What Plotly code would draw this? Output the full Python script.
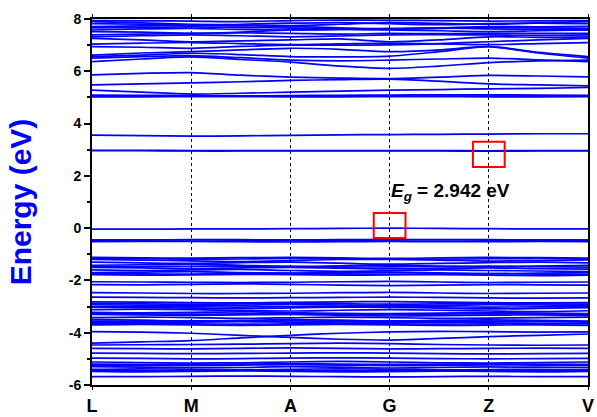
import plotly.graph_objects as go

# k-path: high-symmetry points and midpoints (L, LM, M, MA, A, AG, G, GZ, Z, ZV, V)
k_path = [0, 0.5, 1, 1.5, 2, 2.5, 3, 3.5, 4, 4.5, 5]
k_ticks = [0, 1, 2, 3, 4, 5]
k_labels = ["L", "M", "A", "G", "Z", "V"]
energy_ticks = [-6, -4, -2, 0, 2, 4, 6, 8]

valence_bands = [
    [-0.04, -0.04, -0.03, -0.03, -0.02, -0.01, 0.00, -0.01, -0.02, -0.03, -0.03],
    [-0.45, -0.45, -0.44, -0.44, -0.45, -0.44, -0.43, -0.44, -0.44, -0.45, -0.45],
    [-0.48, -0.49, -0.50, -0.49, -0.48, -0.48, -0.49, -0.50, -0.49, -0.48, -0.48],
    [-0.52, -0.51, -0.51, -0.52, -0.53, -0.52, -0.51, -0.52, -0.52, -0.51, -0.52],
    [-1.12, -1.14, -1.15, -1.13, -1.12, -1.14, -1.16, -1.14, -1.12, -1.13, -1.15],
    [-1.16, -1.17, -1.19, -1.18, -1.16, -1.17, -1.20, -1.19, -1.17, -1.16, -1.18],
    [-1.20, -1.22, -1.25, -1.28, -1.24, -1.20, -1.19, -1.22, -1.26, -1.24, -1.21],
    [-1.30, -1.33, -1.35, -1.32, -1.30, -1.34, -1.38, -1.35, -1.32, -1.30, -1.33],
    [-1.42, -1.40, -1.38, -1.42, -1.46, -1.44, -1.42, -1.45, -1.48, -1.45, -1.42],
    [-1.46, -1.47, -1.46, -1.45, -1.47, -1.49, -1.48, -1.47, -1.45, -1.47, -1.49],
    [-1.50, -1.52, -1.55, -1.52, -1.50, -1.53, -1.56, -1.54, -1.52, -1.55, -1.57],
    [-1.60, -1.62, -1.60, -1.58, -1.62, -1.65, -1.63, -1.60, -1.62, -1.64, -1.66],
    [-1.70, -1.68, -1.66, -1.70, -1.72, -1.70, -1.68, -1.71, -1.74, -1.72, -1.70],
    [-1.74, -1.75, -1.76, -1.74, -1.73, -1.75, -1.76, -1.75, -1.74, -1.76, -1.77],
    [-1.78, -1.80, -1.79, -1.77, -1.78, -1.80, -1.79, -1.78, -1.80, -1.82, -1.80],
    [-2.05, -2.06, -2.07, -2.08, -2.07, -2.05, -2.04, -2.06, -2.08, -2.07, -2.06],
    [-2.16, -2.17, -2.15, -2.13, -2.15, -2.18, -2.20, -2.18, -2.16, -2.17, -2.18],
    [-2.47, -2.48, -2.50, -2.50, -2.49, -2.47, -2.46, -2.48, -2.50, -2.49, -2.48],
    [-2.64, -2.65, -2.66, -2.67, -2.66, -2.65, -2.64, -2.65, -2.67, -2.68, -2.67],
    [-2.82, -2.83, -2.85, -2.86, -2.84, -2.82, -2.81, -2.83, -2.85, -2.86, -2.85],
    [-2.89, -2.90, -2.91, -2.90, -2.88, -2.89, -2.91, -2.90, -2.89, -2.90, -2.91],
    [-2.93, -2.95, -2.97, -2.95, -2.92, -2.94, -2.97, -2.96, -2.93, -2.94, -2.96],
    [-3.00, -3.00, -3.01, -3.02, -3.00, -2.99, -3.00, -3.01, -3.02, -3.01, -3.00],
    [-3.02, -3.04, -3.06, -3.08, -3.05, -3.02, -3.03, -3.06, -3.09, -3.07, -3.04],
    [-3.12, -3.10, -3.12, -3.15, -3.17, -3.14, -3.12, -3.14, -3.17, -3.19, -3.16],
    [-3.22, -3.24, -3.22, -3.20, -3.23, -3.26, -3.27, -3.25, -3.23, -3.25, -3.27],
    [-3.27, -3.28, -3.29, -3.28, -3.27, -3.29, -3.30, -3.29, -3.28, -3.28, -3.29],
    [-3.30, -3.32, -3.34, -3.32, -3.30, -3.33, -3.36, -3.35, -3.33, -3.32, -3.34],
    [-3.42, -3.40, -3.42, -3.45, -3.43, -3.40, -3.42, -3.45, -3.44, -3.42, -3.40],
    [-3.50, -3.52, -3.55, -3.53, -3.50, -3.52, -3.55, -3.53, -3.51, -3.53, -3.56],
    [-3.56, -3.57, -3.57, -3.56, -3.55, -3.57, -3.58, -3.57, -3.56, -3.57, -3.58],
    [-3.60, -3.62, -3.60, -3.58, -3.60, -3.63, -3.62, -3.60, -3.62, -3.64, -3.62],
    [-3.66, -3.65, -3.66, -3.67, -3.66, -3.65, -3.66, -3.67, -3.66, -3.65, -3.66],
    [-3.70, -3.68, -3.70, -3.72, -3.70, -3.68, -3.70, -3.72, -3.71, -3.70, -3.72],
    [-3.96, -3.98, -4.02, -4.10, -4.18, -4.25, -4.28, -4.22, -4.15, -4.10, -4.05],
    [-4.40, -4.35, -4.30, -4.20, -4.10, -4.02, -3.97, -3.95, -3.96, -3.98, -3.97],
    [-4.47, -4.46, -4.45, -4.44, -4.42, -4.40, -4.42, -4.45, -4.47, -4.48, -4.47],
    [-4.60, -4.61, -4.62, -4.60, -4.58, -4.60, -4.62, -4.61, -4.60, -4.59, -4.60],
    [-4.78, -4.79, -4.80, -4.79, -4.78, -4.77, -4.78, -4.80, -4.81, -4.80, -4.79],
    [-4.97, -4.98, -5.00, -4.99, -4.97, -4.96, -4.97, -4.99, -5.00, -4.99, -4.98],
    [-5.12, -5.14, -5.16, -5.15, -5.12, -5.10, -5.12, -5.15, -5.16, -5.14, -5.12],
    [-5.20, -5.21, -5.21, -5.20, -5.19, -5.20, -5.21, -5.21, -5.20, -5.20, -5.21],
    [-5.24, -5.25, -5.26, -5.24, -5.22, -5.24, -5.26, -5.25, -5.23, -5.24, -5.26],
    [-5.30, -5.32, -5.34, -5.33, -5.30, -5.32, -5.35, -5.33, -5.31, -5.32, -5.34],
    [-5.40, -5.38, -5.40, -5.42, -5.40, -5.38, -5.40, -5.42, -5.41, -5.40, -5.42],
    [-5.44, -5.45, -5.45, -5.44, -5.44, -5.45, -5.46, -5.45, -5.44, -5.45, -5.45],
    [-5.48, -5.50, -5.48, -5.46, -5.48, -5.50, -5.49, -5.47, -5.48, -5.50, -5.48],
    [-5.68, -5.68, -5.67, -5.66, -5.67, -5.68, -5.69, -5.68, -5.67, -5.68, -5.68],
]

conduction_bands = [
    [2.96, 2.96, 2.95, 2.95, 2.95, 2.95, 2.95, 2.95, 2.942, 2.95, 2.95],
    [2.98, 2.98, 2.97, 2.97, 2.97, 2.97, 2.97, 2.97, 2.96, 2.97, 2.97],
    [3.56, 3.54, 3.52, 3.53, 3.55, 3.57, 3.58, 3.59, 3.60, 3.61, 3.61],
    [5.02, 5.02, 5.03, 5.03, 5.02, 5.02, 5.03, 5.03, 5.02, 5.02, 5.03],
    [5.05, 5.06, 5.06, 5.05, 5.05, 5.06, 5.06, 5.05, 5.05, 5.06, 5.06],
    [5.09, 5.08, 5.07, 5.06, 5.07, 5.08, 5.09, 5.10, 5.10, 5.09, 5.08],
    [5.28, 5.20, 5.13, 5.16, 5.20, 5.24, 5.28, 5.30, 5.33, 5.35, 5.38],
    [5.48, 5.52, 5.56, 5.60, 5.65, 5.68, 5.70, 5.62, 5.52, 5.48, 5.44],
    [5.86, 5.92, 5.95, 5.85, 5.78, 5.74, 5.72, 5.78, 5.84, 5.82, 5.79],
    [6.37, 6.47, 6.55, 6.45, 6.35, 6.20, 6.11, 6.20, 6.33, 6.40, 6.43],
    [6.50, 6.56, 6.60, 6.52, 6.43, 6.40, 6.43, 6.47, 6.50, 6.44, 6.37],
    [6.56, 6.62, 6.69, 6.64, 6.56, 6.55, 6.58, 6.75, 6.94, 6.72, 6.56],
    [6.62, 6.70, 6.75, 6.82, 6.88, 6.84, 6.75, 6.82, 6.94, 6.70, 6.50],
    [6.94, 6.92, 6.88, 6.95, 7.00, 7.00, 7.01, 7.06, 7.13, 7.20, 7.26],
    [7.04, 7.08, 7.10, 7.06, 7.02, 7.05, 7.08, 7.05, 7.02, 7.06, 7.10],
    [7.26, 7.20, 7.13, 7.16, 7.20, 7.24, 7.13, 7.20, 7.32, 7.30, 7.32],
    [7.32, 7.36, 7.39, 7.36, 7.32, 7.35, 7.39, 7.40, 7.39, 7.37, 7.39],
    [7.39, 7.42, 7.45, 7.47, 7.45, 7.42, 7.45, 7.44, 7.45, 7.45, 7.45],
    [7.52, 7.50, 7.45, 7.50, 7.58, 7.60, 7.58, 7.55, 7.52, 7.55, 7.58],
    [7.58, 7.62, 7.64, 7.60, 7.58, 7.60, 7.64, 7.66, 7.62, 7.60, 7.58],
    [7.66, 7.68, 7.70, 7.68, 7.65, 7.62, 7.60, 7.64, 7.68, 7.66, 7.64],
    [7.71, 7.74, 7.77, 7.74, 7.71, 7.66, 7.62, 7.66, 7.71, 7.70, 7.72],
    [7.82, 7.80, 7.76, 7.80, 7.84, 7.86, 7.82, 7.78, 7.82, 7.84, 7.82],
    [7.90, 7.85, 7.80, 7.78, 7.75, 7.80, 7.86, 7.83, 7.80, 7.85, 7.90],
    [7.94, 7.93, 7.92, 7.90, 7.94, 7.96, 7.95, 7.94, 7.92, 7.93, 7.94],
]

band_gap = 2.942

BLUE = "#0000FF"
FONT = "Liberation Sans, Arial, sans-serif"

fig = go.Figure()
for band in valence_bands + conduction_bands:
    fig.add_trace(go.Scatter(
        x=k_path, y=band, mode="lines",
        line=dict(color=BLUE, width=1.7, shape="spline", smoothing=0.8),
        showlegend=False, hoverinfo="skip",
    ))

# red boxes marking VBM (at G) and CBM (at Z)
for xc, yc in [(3.0, 0.1), (4.0, 2.82)]:
    fig.add_shape(type="rect", xref="x", yref="y",
                  x0=xc - 0.16, x1=xc + 0.16, y0=yc - 0.48, y1=yc + 0.48,
                  line=dict(color="#FF0000", width=2), fillcolor="rgba(0,0,0,0)")

fig.add_annotation(
    x=2.99, y=1.38, xref="x", yref="y", xanchor="left", yanchor="middle",
    text=f"<b><i>E</i><sub><i>g</i></sub> = {band_gap} eV</b>",
    showarrow=False, font=dict(family=FONT, size=19, color="black"),
)

fig.update_layout(
    width=597, height=417,
    margin=dict(l=92, r=9, t=19, b=32, autoexpand=False),
    paper_bgcolor="white", plot_bgcolor="white",
    font=dict(family=FONT, color="black"),
)
fig.update_xaxes(
    range=[0, 5], tickvals=k_ticks, ticktext=k_labels, automargin=False,
    showgrid=True, gridcolor="black", griddash="dot", gridwidth=1,
    showline=True, linecolor="black", linewidth=2, mirror="ticks",
    ticks="outside", ticklen=3, tickcolor="black",
    tickfont=dict(family=FONT, size=18, color="black", weight="bold"),
    zeroline=False,
)
fig.update_yaxes(
    range=[-6, 8], tickvals=energy_ticks, ticktext=[str(v) for v in energy_ticks],
    automargin=False,
    showgrid=False, zeroline=False,
    showline=True, linecolor="black", linewidth=2, mirror=True,
    ticks="outside", ticklen=6, tickwidth=1.5, tickcolor="black",
    minor=dict(dtick=1, ticks="outside", ticklen=3, tickcolor="black", showgrid=False),
    tickfont=dict(family=FONT, size=14, color="black", weight="bold"),
    title=dict(text="Energy (eV)", standoff=28,
               font=dict(family=FONT, size=30, color=BLUE, weight="bold")),
)

fig.write_html("out.html", config={"displayModeBar": False},
               post_script="document.body.style.margin='0';")
